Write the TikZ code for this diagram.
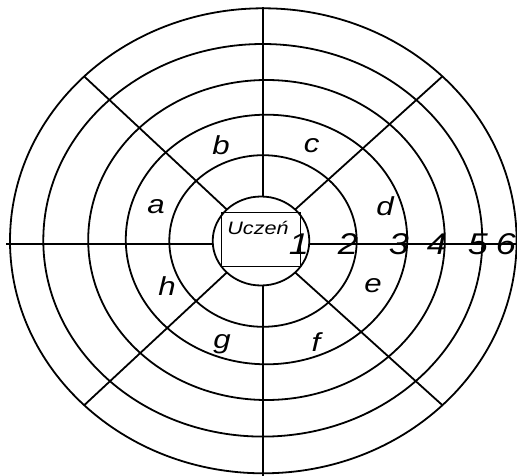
\documentclass[tikz,border=0pt]{standalone}
\usepackage{fontspec}
\newfontfamily\figfont[FakeStretch=1.2]{Liberation Sans}
\usetikzlibrary{shapes.geometric,calc}

\begin{document}
\begin{tikzpicture}[x=1pt, y=-1pt,
    ring/.style={draw, ellipse, line width=1.8pt, inner sep=0pt, outer sep=0pt},
    spoke/.style={line width=1.8pt},
    sector/.style={font=\figfont\itshape\fontsize{26}{26}\selectfont, inner sep=0pt},
    level/.style={font=\figfont\itshape\fontsize{30}{30}\selectfont, inner sep=0pt}
]
    \useasboundingbox (0,0) rectangle (517,476);

    % rings 1..6
    \foreach \n/\cx/\cy/\rx/\ry in {1/261/241/48.3/44.5, 2/263/241/93.7/85.8,
        3/266.5/239.5/140.7/124.8, 4/266.5/240/178.3/160,
        5/262.8/240.3/219.5/196.3, 6/263.3/240.8/253.3/232.5}
        \node[ring, minimum width={2*\rx}, minimum height={2*\ry}] (r\n) at (\cx,\cy) {};

    % axes
    \coordinate (axl) at (6,244);
    \coordinate (axr) at (520,244);
    \coordinate (axt) at (263,7);
    \coordinate (axb) at (263,480);
    \draw[spoke] (axl) -- (axl -| r1.west);
    \draw[spoke] (axl -| r1.east) -- (axr);
    \draw[spoke] (axt) -- (axt |- r1.north);
    \draw[spoke] (axt |- r1.south) -- (axb);

    % diagonals
    \foreach \a in {north west, north east, south west, south east}
        \draw[spoke] (r1.\a) -- (r6.\a);

    % centre
    \node[draw, line width=0.9pt, minimum width=79, minimum height=54.7, inner sep=0pt] (pupil) at (261.3,239.3) {};
    \node[font=\figfont\itshape\fontsize{18}{18}\selectfont, inner sep=0pt] (uczen) at (258,228) {Uczeń};

    % sectors
    \foreach \t/\x/\y in {a/156/207, b/221/145, c/311.7/146, d/385/206,
        e/373/286, f/316/342, g/222/344, h/167/286}
        \node[sector] (sec\t) at (\x,\y) {\t};

    % levels
    \foreach \t/\x/\y in {1/299/244, 2/348/244, 3/399/244, 4/437/244, 5/478/244, 6/506/244}
        \node[level] (lev\t) at (\x,\y) {\t};
\end{tikzpicture}
\end{document}
